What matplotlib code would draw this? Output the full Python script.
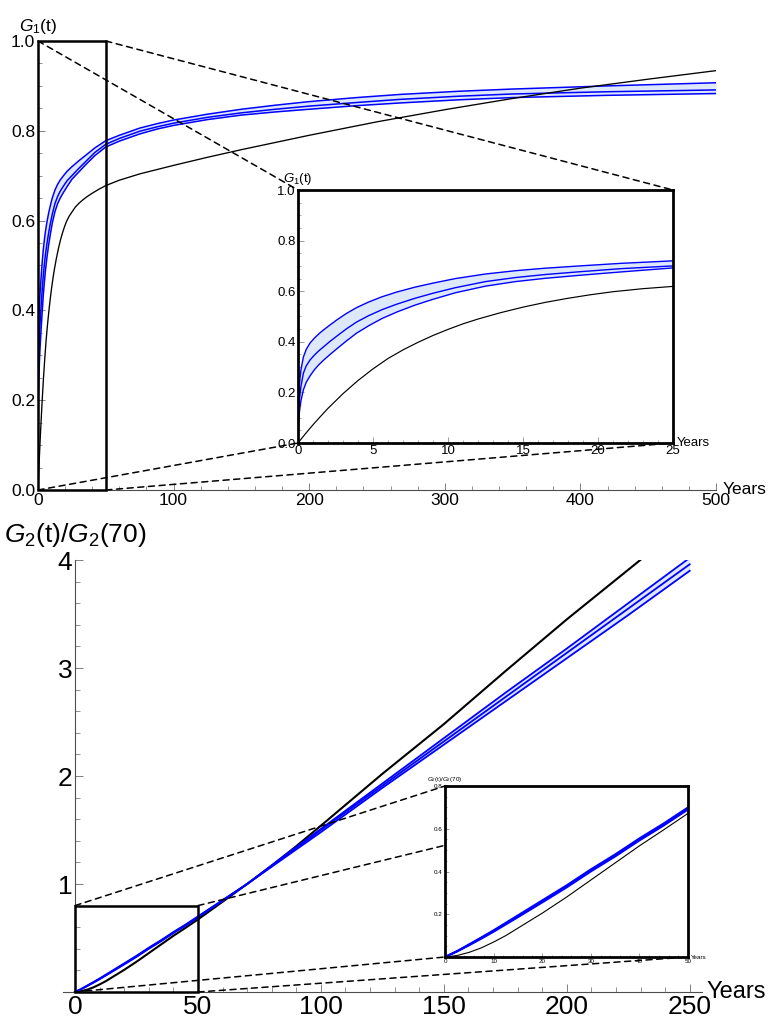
import matplotlib
matplotlib.use("Agg")
import matplotlib.pyplot as plt
from matplotlib.patches import Rectangle, ConnectionPatch
from matplotlib.ticker import MultipleLocator, FormatStrFormatter

plt.rcParams['font.family'] = ['Liberation Sans', 'DejaVu Sans']
plt.rcParams['mathtext.fontset'] = 'custom'
plt.rcParams['mathtext.rm'] = 'Liberation Sans'
plt.rcParams['mathtext.it'] = 'Liberation Sans:italic'

# ---- G1(t): blue band (upper / middle / lower) ----
t1 = [0, 0.02, 0.06, 0.12, 0.2, 0.36, 0.55, 0.8, 1.1, 1.4, 1.7, 2.1, 2.6, 3.2, 3.9,
      4.7, 5.6, 6.6, 7.8, 9, 10.5, 12.5, 14.5, 16.5, 18.8, 21.5, 25, 30, 35, 42, 50,
      60, 75, 88, 100, 125, 150, 175, 200, 235, 267, 310, 350, 420, 500]
g1_upper = [0, 0.13, 0.20, 0.25, 0.29, 0.34, 0.37, 0.395, 0.415, 0.432, 0.447, 0.465,
            0.487, 0.511, 0.535, 0.557, 0.578, 0.597, 0.616, 0.632, 0.650, 0.668, 0.681,
            0.691, 0.700, 0.710, 0.720, 0.733, 0.745, 0.762, 0.778, 0.790, 0.806, 0.816,
            0.824, 0.837, 0.848, 0.857, 0.865, 0.874, 0.881, 0.888, 0.893, 0.900, 0.907]
g1_middle = [0, 0.09, 0.14, 0.185, 0.225, 0.276, 0.305, 0.328, 0.348, 0.365, 0.38, 0.40,
             0.423, 0.45, 0.478, 0.503, 0.527, 0.549, 0.572, 0.592, 0.614, 0.638, 0.654,
             0.666, 0.677, 0.689, 0.700, 0.716, 0.731, 0.752, 0.770, 0.783, 0.799, 0.809,
             0.817, 0.830, 0.840, 0.848, 0.855, 0.863, 0.870, 0.877, 0.882, 0.887, 0.891]
g1_lower = [0, 0.06, 0.10, 0.135, 0.168, 0.21, 0.24, 0.265, 0.29, 0.31, 0.327, 0.348,
            0.373, 0.402, 0.434, 0.463, 0.492, 0.518, 0.545, 0.568, 0.594, 0.620, 0.638,
            0.651, 0.663, 0.676, 0.692, 0.708, 0.724, 0.745, 0.764, 0.777, 0.793, 0.804,
            0.812, 0.825, 0.835, 0.842, 0.848, 0.856, 0.862, 0.869, 0.874, 0.879, 0.883]
# ---- G1(t): black curve ----
t1_black = [0, 0.5, 1, 1.5, 2, 3, 4, 5, 6, 7, 8, 9, 10, 11, 12, 13.5, 15, 16.5, 18,
            19.5, 21, 23, 25, 27.5, 30, 33, 36, 40, 45, 50, 60, 75, 100, 125, 150, 175,
            200, 250, 300, 350, 400, 450, 500]
g1_black = [0, 0.037, 0.072, 0.105, 0.137, 0.195, 0.247, 0.293, 0.334, 0.368, 0.398,
            0.425, 0.449, 0.471, 0.490, 0.515, 0.537, 0.556, 0.572, 0.586, 0.598, 0.610,
            0.619, 0.630, 0.638, 0.646, 0.653, 0.661, 0.670, 0.678, 0.690, 0.704, 0.723,
            0.741, 0.758, 0.774, 0.790, 0.820, 0.847, 0.872, 0.895, 0.915, 0.934]

# ---- G2(t)/G2(70) ----
t2 = [0, 2.5, 5, 7.5, 10, 15, 20, 25, 30, 35, 40, 45, 50, 60, 70, 85, 100, 125, 150,
      175, 200, 225, 250]
g2_upper = [0, 0.028, 0.06, 0.092, 0.125, 0.195, 0.265, 0.335, 0.41, 0.48, 0.555, 0.625,
            0.70, 0.85, 1.0, 1.26, 1.51, 1.93, 2.35, 2.77, 3.18, 3.60, 4.02]
g2_middle = [0, 0.027, 0.058, 0.09, 0.122, 0.19, 0.26, 0.33, 0.405, 0.475, 0.55, 0.62,
             0.695, 0.848, 1.0, 1.25, 1.50, 1.91, 2.32, 2.73, 3.14, 3.55, 3.96]
g2_lower = [0, 0.026, 0.055, 0.086, 0.118, 0.186, 0.255, 0.325, 0.40, 0.47, 0.545, 0.615,
            0.69, 0.845, 1.0, 1.24, 1.48, 1.89, 2.29, 2.69, 3.09, 3.49, 3.90]
t2_black = [0, 2.5, 5, 7.5, 10, 12.5, 15, 17.5, 20, 25, 30, 35, 40, 45, 50, 60, 70, 80,
            90, 100, 125, 150, 175, 200, 231, 245]
g2_black = [0, 0.007, 0.022, 0.043, 0.07, 0.10, 0.135, 0.17, 0.205, 0.28, 0.36, 0.44,
            0.52, 0.595, 0.672, 0.835, 1.0, 1.17, 1.35, 1.54, 2.02, 2.48, 2.97, 3.45,
            4.02, 4.28]

# zoomed windows
zoom1_x, zoom1_y = (0, 50), (0, 1.0)
inset1_x = (0, 25)
zoom2_x, zoom2_y = (0, 50), (0, 0.8)

BLUE = '#0000ff'
FILL = '#dde8fb'

W, H = 768, 1022
fig = plt.figure(figsize=(W / 100, H / 100), dpi=100)


def box(l, t, r, b):
    return [l / W, 1 - b / H, (r - l) / W, (b - t) / H]


def math_axes(ax, fs, ticklen):
    for s in ['top', 'right']:
        ax.spines[s].set_visible(False)
    for s in ['left', 'bottom']:
        ax.spines[s].set_position(('data', 0))
        ax.spines[s].set_color('0.3')
        ax.spines[s].set_linewidth(0.8)
    ax.tick_params(which='both', direction='in', color='0.5', labelsize=fs, pad=2)
    ax.tick_params(which='major', length=ticklen, width=0.7)
    ax.tick_params(which='minor', length=ticklen * 0.55, width=0.6)
    ax.patch.set_alpha(0)


def framed_inset(ax, fs, ticklen):
    for s in ax.spines.values():
        s.set_color('black')
        s.set_linewidth(2)
    ax.tick_params(which='both', direction='in', color='0.55', labelsize=fs, pad=1.5)
    ax.tick_params(which='major', length=ticklen, width=0.6)
    ax.tick_params(which='minor', length=ticklen * 0.55, width=0.5)
    ax.set_facecolor('white')


def draw_g1(ax, lw_b, lw_k):
    ax.fill_between(t1, g1_lower, g1_upper, color=FILL, lw=0)
    for g in (g1_upper, g1_middle, g1_lower):
        ax.plot(t1, g, color=BLUE, lw=lw_b)
    ax.plot(t1_black, g1_black, color='black', lw=lw_k)


def draw_g2(ax, lw_b, lw_k):
    ax.fill_between(t2, g2_lower, g2_upper, color=FILL, lw=0)
    ax.plot(t2_black, g2_black, color='black', lw=lw_k)
    for g in (g2_upper, g2_middle, g2_lower):
        ax.plot(t2, g, color=BLUE, lw=lw_b)


def connect(ax, ins, zx, zy):
    pairs = [((zx[0], zy[1]), (0, 1)), ((zx[1], zy[1]), (1, 1)),
             ((zx[0], zy[0]), (0, 0)), ((zx[1], zy[0]), (1, 0))]
    for a, b in pairs:
        con = ConnectionPatch(xyA=a, coordsA=ax.transData, xyB=b, coordsB=ins.transAxes,
                              color='black', lw=1.1, linestyle=(0, (4, 3)), zorder=2)
        fig.add_artist(con)


# ================= top panel =================
ax1 = fig.add_axes(box(38, 41, 716, 490), zorder=1)
draw_g1(ax1, 1.1, 0.95)
ax1.set_xlim(0, 500)
ax1.set_ylim(0, 1.0)
math_axes(ax1, 12.5, 5)
ax1.xaxis.set_major_locator(MultipleLocator(100))
ax1.xaxis.set_minor_locator(MultipleLocator(20))
ax1.yaxis.set_major_locator(MultipleLocator(0.2))
ax1.yaxis.set_minor_locator(MultipleLocator(0.05))
ax1.yaxis.set_major_formatter(FormatStrFormatter('%.1f'))
ax1.add_patch(Rectangle((zoom1_x[0], zoom1_y[0]), zoom1_x[1] - zoom1_x[0],
                        zoom1_y[1] - zoom1_y[0], fill=False, ec='black', lw=1.8,
                        clip_on=False, zorder=5))
ax1.text(0, 1.012, r'$G_1$(t)', transform=ax1.get_xaxis_transform(), ha='center',
         va='bottom', fontsize=12.5)
ax1.annotate('Years', xy=(1, 0), xycoords='axes fraction', xytext=(5, 0),
             textcoords='offset points', ha='left', va='center', fontsize=12.5)

ins1 = fig.add_axes(box(298, 190, 673, 443), zorder=3)
framed_inset(ins1, 9.5, 4)
draw_g1(ins1, 1.0, 0.85)
ins1.set_xlim(*inset1_x)
ins1.set_ylim(*zoom1_y)
ins1.xaxis.set_major_locator(MultipleLocator(5))
ins1.xaxis.set_minor_locator(MultipleLocator(1))
ins1.yaxis.set_major_locator(MultipleLocator(0.2))
ins1.yaxis.set_minor_locator(MultipleLocator(0.05))
ins1.yaxis.set_major_formatter(FormatStrFormatter('%.1f'))
ins1.text(0, 1.01, r'$G_1$(t)', transform=ins1.transAxes, ha='center', va='bottom',
          fontsize=9.5)
ins1.annotate('Years', xy=(1, 0), xycoords='axes fraction', xytext=(3, 0),
              textcoords='offset points', ha='left', va='center', fontsize=9.5)
connect(ax1, ins1, zoom1_x, zoom1_y)

# ================= bottom panel =================
ax2 = fig.add_axes(box(62.7, 560, 702, 992), zorder=1)
draw_g2(ax2, 1.3, 1.5)
ax2.set_xlim(-5, 255)
ax2.set_ylim(0, 4)
math_axes(ax2, 19, 6)
ax2.spines['left'].set_bounds(0, 4)
ax2.xaxis.set_major_locator(MultipleLocator(50))
ax2.xaxis.set_minor_locator(MultipleLocator(10))
ax2.set_yticks([1, 2, 3, 4])
ax2.yaxis.set_minor_locator(MultipleLocator(0.2))
ax2.add_patch(Rectangle((zoom2_x[0], zoom2_y[0]), zoom2_x[1] - zoom2_x[0],
                        zoom2_y[1] - zoom2_y[0], fill=False, ec='black', lw=1.8,
                        clip_on=False, zorder=5))
ax2.text(0, 1.025, r'$G_2$(t)/$G_2$(70)', transform=ax2.get_xaxis_transform(),
         ha='center', va='bottom', fontsize=19)
ax2.annotate('Years', xy=(1, 0), xycoords='axes fraction', xytext=(3, 0),
             textcoords='offset points', ha='left', va='center', fontsize=17)

ins2 = fig.add_axes(box(445, 786, 688, 957), zorder=3)
framed_inset(ins2, 4.5, 3)
draw_g2(ins2, 1.4, 0.8)
ins2.set_xlim(*zoom2_x)
ins2.set_ylim(*zoom2_y)
ins2.xaxis.set_major_locator(MultipleLocator(10))
ins2.xaxis.set_minor_locator(MultipleLocator(2))
ins2.set_yticks([0.2, 0.4, 0.6, 0.8])
ins2.yaxis.set_minor_locator(MultipleLocator(0.05))
ins2.text(0, 1.01, r'$G_2$(t)/$G_2$(70)', transform=ins2.transAxes, ha='center',
          va='bottom', fontsize=4.5)
ins2.annotate('Years', xy=(1, 0), xycoords='axes fraction', xytext=(2, 0),
              textcoords='offset points', ha='left', va='center', fontsize=4.5)
connect(ax2, ins2, zoom2_x, zoom2_y)

fig.savefig('out.png', dpi=100)
